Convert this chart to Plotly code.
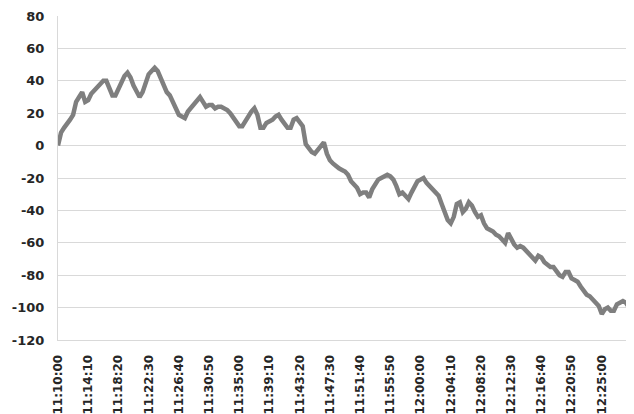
import pandas as pd
import plotly.graph_objects as go

start_time = "2020-01-01 11:10:00"
step_seconds = 25

values = [
    0, 8, 11, 13, 16, 19, 27, 30, 33, 27,
    28, 32, 34, 36, 37, 40, 40, 35, 31, 31,
    35, 40, 43, 45, 42, 37, 33, 30, 33, 39,
    44, 46, 48, 46, 42, 37, 33, 31, 27, 22,
    19, 18, 17, 21, 23, 25, 28, 30, 27, 24,
    25, 25, 23, 24, 24, 23, 22, 20, 17, 14,
    12, 12, 15, 19, 21, 23, 19, 11, 11, 14,
    15, 16, 18, 19, 16, 14, 11, 11, 16, 17,
    15, 12, 1, -2, -4, -5, -3, 0, 2, -5,
    -9, -11, -13, -14, -15, -16, -18, -22, -24, -26,
    -30, -29, -29, -32, -27, -24, -21, -20, -19, -18,
    -19, -21, -25, -30, -29, -31, -33, -29, -25, -22,
    -21, -20, -23, -25, -27, -29, -31, -36, -42, -46,
    -48, -44, -36, -35, -41, -39, -35, -37, -41, -44,
    -43, -48, -51, -52, -53, -55, -56, -58, -60, -54,
    -58, -61, -63, -62, -63, -65, -68, -70, -71, -68,
    -69, -72, -74, -75, -75, -78, -80, -81, -78, -78,
    -82, -83, -84, -87, -90, -92, -93, -95, -97, -99,
    -104, -101, -100, -102, -102, -98, -97, -96, -97, -100,
    -105,
]

tick_labels = [
    "11:10:00", "11:14:10", "11:18:20", "11:22:30", "11:26:40",
    "11:30:50", "11:35:00", "11:39:10", "11:43:20", "11:47:30",
    "11:51:40", "11:55:50", "12:00:00", "12:04:10", "12:08:20",
    "12:12:30", "12:16:40", "12:20:50", "12:25:00", "12:29:10",
]

y_ticks = [80, 60, 40, 20, 0, -20, -40, -60, -80, -100, -120]
y_tick_labels = ["80", "60", "40", "20", "0", "-20", "-40", "-60", "-80", "-100", "-120"]

times = pd.date_range(start=start_time, periods=len(values), freq=f"{step_seconds}s")
tick_vals = [pd.Timestamp("2020-01-01 " + t) for t in tick_labels]

fig = go.Figure()
fig.add_trace(go.Scatter(
    x=times, y=values, mode="lines",
    line=dict(color="#7f7f7f", width=4.5),
    hoverinfo="skip", showlegend=False,
))

yfont = dict(family="DejaVu Sans", size=13, color="#262626", weight="bold")
xfont = dict(family="DejaVu Sans", size=12, color="#262626", weight="bold")

# page body adds an 8px offset; figure is sized so the plot lands where the reference has it
fig.update_layout(
    width=626, height=406,
    margin=dict(l=50, r=2, t=8, b=74),
    paper_bgcolor="white", plot_bgcolor="white",
    font=yfont,
)
fig.update_xaxes(
    type="date",
    range=[times[0], times[-1]],
    tickvals=tick_vals, ticktext=tick_labels,
    tickangle=-90, tickfont=xfont,
    showgrid=False, zeroline=False,
    showline=True, linecolor="#d9d9d9", linewidth=1,
    ticks="", ticklabelstandoff=9, automargin=False,
    ticklabeloverflow="allow",
)
fig.update_yaxes(
    range=[-120, 80], tickvals=y_ticks, ticktext=y_tick_labels,
    tickfont=yfont,
    showgrid=True, gridcolor="#d9d9d9", gridwidth=1,
    zeroline=True, zerolinecolor="#d9d9d9", zerolinewidth=1,
    showline=True, linecolor="#d9d9d9", linewidth=1,
    ticks="", ticklabelstandoff=10, automargin=False,
)

fig.write_html("out.html")
